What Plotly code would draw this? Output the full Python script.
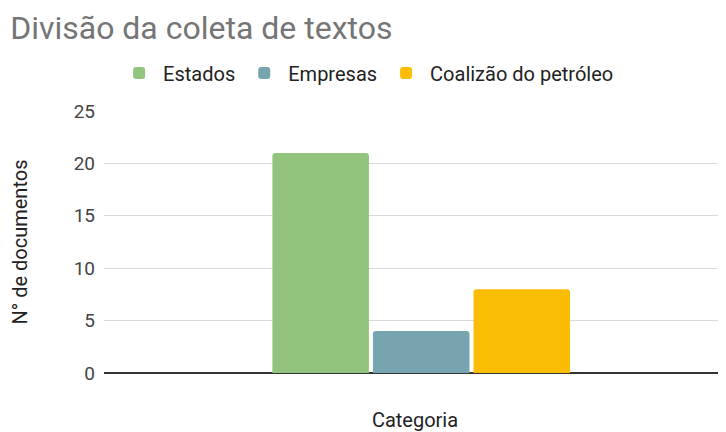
import plotly.graph_objects as go

# dados do gráfico
categorias = ["Categoria"]
series = ["Estados", "Empresas", "Coalizão do petróleo"]
valores = [21, 4, 8]
cores = ["#93c47d", "#76a5af", "#fbbc04"]

fig = go.Figure()
for nome, valor, cor in zip(series, valores, cores):
    fig.add_trace(go.Bar(
        x=categorias,
        y=[valor],
        name=nome,
        marker_color=cor,
        marker_line_width=0,
    ))

# a página tem 8px de margem no body, por isso 718x424
fig.update_layout(
    width=718,
    height=424,
    paper_bgcolor="white",
    plot_bgcolor="white",
    font=dict(family="Roboto, Arial, sans-serif", size=19, color="#222222"),
    title=dict(
        text="Divisão da coleta de textos",
        x=0.003, xref="container", xanchor="left",
        y=0.953, yref="container", yanchor="middle",
        font=dict(size=32, color="#757575"),
    ),
    legend=dict(
        orientation="h",
        x=0.423, xanchor="center",
        y=1.145, yanchor="middle",
        font=dict(size=20, color="#222222"),
        itemwidth=38,
    ),
    barmode="group",
    bargap=0.515,
    bargroupgap=0.04,
    barcornerradius=3,
    margin=dict(l=96, r=0, t=103, b=59),
    showlegend=True,
)

fig.update_yaxes(
    range=[0, 25],
    dtick=5,
    showgrid=True,
    gridcolor="#d9d9d9",
    gridwidth=1,
    zeroline=True,
    zerolinecolor="#333333",
    zerolinewidth=1.5,
    tickfont=dict(size=19, color="#444444"),
    ticklabelstandoff=8,
    title=dict(text="N° de documentos", font=dict(size=20, color="#222222"), standoff=42),
)

fig.update_xaxes(
    showticklabels=False,
    showgrid=False,
    showline=False,
    title=dict(text="Categoria", font=dict(size=20, color="#222222"), standoff=43),
    range=[-0.51, 0.49],
)

fig.write_html("out.html")
